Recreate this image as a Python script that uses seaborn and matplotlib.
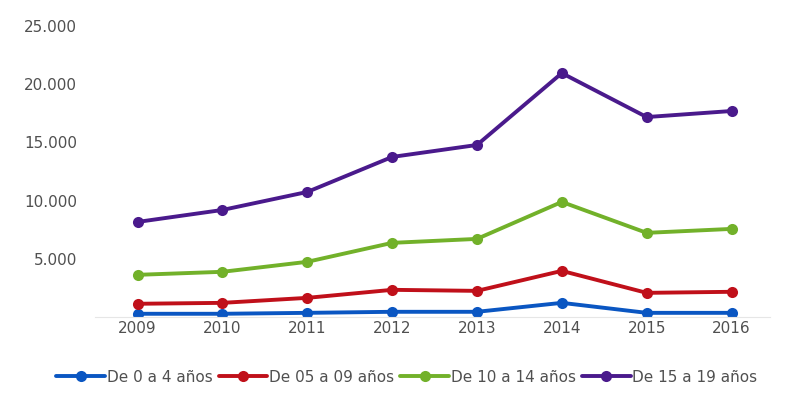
import matplotlib
matplotlib.use("Agg")
import matplotlib.pyplot as plt
import seaborn as sns
import pandas as pd

years = [2009, 2010, 2011, 2012, 2013, 2014, 2015, 2016]
g0_4 = [260, 260, 340, 430, 430, 1200, 340, 340]
g5_9 = [1120, 1200, 1630, 2320, 2230, 3950, 2060, 2150]
g10_14 = [3610, 3870, 4730, 6360, 6700, 9880, 7220, 7560]
g15_19 = [8160, 9190, 10740, 13750, 14780, 20960, 17180, 17700]
series_names = ["De 0 a 4 años", "De 05 a 09 años", "De 10 a 14 años", "De 15 a 19 años"]
colors = ["#0a56c2", "#c0101a", "#72b12a", "#4a1a8c"]
yticks = [5000, 10000, 15000, 20000, 25000]
ytick_labels = ["5.000", "10.000", "15.000", "20.000", "25.000"]

rows = []
for name, vals in zip(series_names, [g0_4, g5_9, g10_14, g15_19]):
    for y, v in zip(years, vals):
        rows.append({"Año": y, "Valor": v, "Grupo": name})
df = pd.DataFrame(rows)

sns.set_theme(style="white")
plt.rcParams['font.family'] = ['DejaVu Sans']

fig = plt.figure(figsize=(7.87, 3.96), dpi=100)
ax = fig.add_axes([0.121, 0.2, 0.857, 0.734])
sns.lineplot(data=df, x="Año", y="Valor", hue="Grupo", hue_order=series_names,
             palette=colors, marker="o", markersize=8, markeredgewidth=0,
             linewidth=2.8, ax=ax)

ax.set_xlim(2008.5, 2016.45)
ax.set_ylim(0, 25000)
ax.set_xticks(years)
ax.set_xticklabels([str(y) for y in years], fontsize=11, color="#505050")
ax.set_yticks(yticks)
ax.set_yticklabels(ytick_labels, fontsize=11, color="#505050")
ax.tick_params(axis='x', length=0, pad=3)
ax.tick_params(axis='y', length=0, pad=13)
ax.set_xlabel("")
ax.set_ylabel("")
for s in ["top", "right", "left"]:
    ax.spines[s].set_visible(False)
ax.spines["bottom"].set_color("#e6e6e6")
ax.spines["bottom"].set_linewidth(0.8)

handles, labels = ax.get_legend_handles_labels()
ax.legend(handles, labels, loc="upper center", bbox_to_anchor=(0.462, -0.135),
          ncol=4, frameon=False, fontsize=11, handlelength=3.2,
          handletextpad=0.1, columnspacing=0.4, labelcolor="#505050")

fig.savefig("out.png", dpi=100, facecolor="white")
